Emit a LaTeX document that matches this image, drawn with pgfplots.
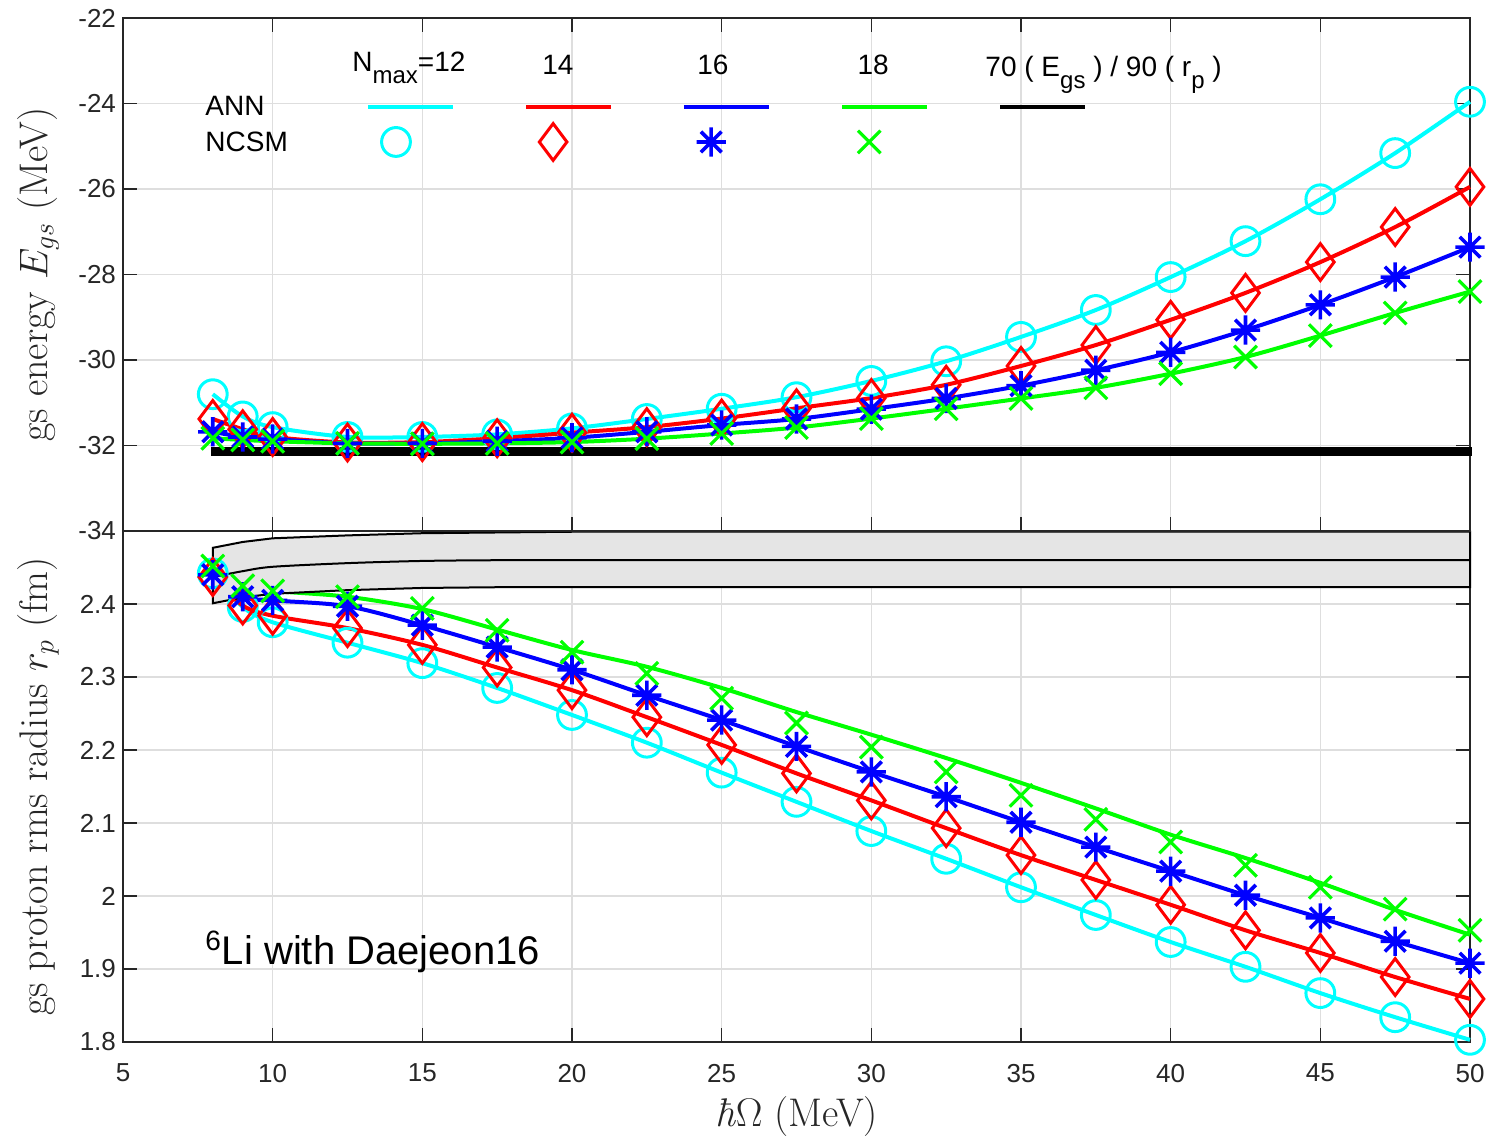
\RequirePackage{fix-cm}
\documentclass[border=0pt]{standalone}
\usepackage{pgfplots}
\usepackage{pgfplotstable}
\pgfplotsset{compat=1.18}
\usepackage{fontspec}
\newfontfamily\hel{Liberation Sans}
\definecolor{axgray}{gray}{0.15}
\definecolor{gridc}{gray}{0.87}
\definecolor{bandc}{gray}{0.9}
\definecolor{mcyan}{rgb}{0,1,1}
\definecolor{mred}{rgb}{1,0,0}
\definecolor{mblue}{rgb}{0,0,1}
\definecolor{mgreen}{rgb}{0,1,0}

\pgfdeclareplotmark{star8}{%
  \pgfpathmoveto{\pgfqpoint{0pt}{\pgfplotmarksize}}\pgfpathlineto{\pgfqpoint{0pt}{-\pgfplotmarksize}}%
  \pgfpathmoveto{\pgfqpoint{\pgfplotmarksize}{0pt}}\pgfpathlineto{\pgfqpoint{-\pgfplotmarksize}{0pt}}%
  \pgfpathmoveto{\pgfqpoint{.7071\pgfplotmarksize}{.7071\pgfplotmarksize}}\pgfpathlineto{\pgfqpoint{-.7071\pgfplotmarksize}{-.7071\pgfplotmarksize}}%
  \pgfpathmoveto{\pgfqpoint{-.7071\pgfplotmarksize}{.7071\pgfplotmarksize}}\pgfpathlineto{\pgfqpoint{.7071\pgfplotmarksize}{-.7071\pgfplotmarksize}}%
  \pgfusepathqstroke}

\newcommand{\sub}[1]{\raisebox{-0.4em}{\fontsize{12}{14}\selectfont #1}}

\pgfplotstableread{
x     e12     e14     e16     e18
8     -30.80  -31.38  -31.68  -31.83
9     -31.32  -31.62  -31.80  -31.87
10    -31.57  -31.80  -31.85  -31.90
12.5  -31.80  -31.93  -31.95  -31.95
15    -31.80  -31.92  -31.95  -31.96
17.5  -31.74  -31.83  -31.90  -31.95
20    -31.60  -31.70  -31.82  -31.92
22.5  -31.38  -31.57  -31.68  -31.84
25    -31.14  -31.37  -31.52  -31.72
27.5  -30.87  -31.13  -31.38  -31.58
30    -30.49  -30.89  -31.15  -31.37
32.5  -30.03  -30.58  -30.90  -31.14
35    -29.46  -30.14  -30.60  -30.90
37.5  -28.83  -29.65  -30.24  -30.65
40    -28.06  -29.06  -29.82  -30.32
42.5  -27.22  -28.43  -29.30  -29.93
45    -26.24  -27.71  -28.71  -29.43
47.5  -25.16  -26.89  -28.06  -28.90
50    -23.96  -25.95  -27.36  -28.40
}\Etab

\pgfplotstableread{
x     r12    r14    r16    r18    r18l
8     2.442  2.437  2.440  2.452  2.452
9     2.396  2.398  2.410  2.425  2.425
10    2.375  2.384  2.405  2.418  2.418
12.5  2.347  2.367  2.397  2.410  2.410
15    2.319  2.344  2.371  2.394  2.393
17.5  2.285  2.313  2.341  2.364  2.365
20    2.248  2.282  2.310  2.334  2.337
22.5  2.210  2.245  2.275  2.305  2.314
25    2.169  2.207  2.241  2.271  2.285
27.5  2.129  2.168  2.205  2.237  2.252
30    2.089  2.131  2.170  2.204  2.221
32.5  2.051  2.093  2.136  2.170  2.189
35    2.012  2.056  2.101  2.138  2.155
37.5  1.974  2.022  2.067  2.105  2.120
40    1.937  1.988  2.034  2.074  2.084
42.5  1.903  1.953  2.001  2.042  2.052
45    1.867  1.922  1.970  2.012  2.018
47.5  1.834  1.889  1.938  1.982  1.981
50    1.803  1.859  1.908  1.953  1.947
}\Rtab

\pgfplotsset{
  myaxis/.style={
    scale only axis, width=673.5pt, xmin=5, xmax=50,
    axis line style={axgray, line width=0.75pt},
    tick style={axgray, line width=0.75pt},
    major tick length=7pt,
    tick align=inside, xtick pos=both, ytick pos=both,
    xmajorgrids, ymajorgrids,
    major grid style={gridc, line width=0.6pt},
    xtick={5,10,15,20,25,30,35,40,45,50},
    tick label style={font=\hel\fontsize{13}{15}\selectfont, text=axgray},
    label style={font=\fontsize{20}{24}\selectfont, text=axgray},
    clip=false,
  },
  ln/.style={no marks, line width=2pt, smooth},
  mk12/.style={only marks, mcyan, mark=o, mark size=7.2pt, mark options={line width=1.5pt}},
  mk14/.style={only marks, mred, mark=diamond, mark size=9.2pt, mark options={line width=1.5pt}},
  mk16/.style={only marks, mblue, mark=star8, mark size=7.3pt, mark options={line width=1.8pt}},
  mk18/.style={only marks, mgreen, mark=x, mark size=8pt, mark options={line width=1.6pt}},
}

\begin{document}
\begin{tikzpicture}
\useasboundingbox (-61.5pt,-47.5pt) rectangle (685pt,521pt);

% bottom panel: radius
\begin{axis}[myaxis, at={(0pt,0pt)}, anchor=south west, height=255.5pt,
  ymin=1.8, ymax=2.5,
  ytick={1.8,1.9,2,2.1,2.2,2.3,2.4},
  yticklabels={1.8,1.9,2,2.1,2.2,2.3,2.4},
  xticklabels={5,10,15,20,25,30,35,40,45,50},
  xticklabel style={yshift=-7.5pt},
  xlabel={\textit{ħ}$\Omega$ (MeV)},
  ylabel={gs proton rms radius $r_p$ (fm)},
  xlabel style={at={(axis description cs:0.5,-0.145)}, anchor=center},
  ylabel style={at={(axis description cs:-0.063,0.5)}, anchor=center},
]
\addplot[ln, mcyan] table[x=x, y=r12] {\Rtab};
\addplot[ln, mred] table[x=x, y=r14] {\Rtab};
\addplot[ln, mblue] table[x=x, y=r16] {\Rtab};
\addplot[ln, mgreen] table[x=x, y=r18l] {\Rtab};
\addplot[mk12] table[x=x, y=r12] {\Rtab};
\addplot[mk14] table[x=x, y=r14] {\Rtab};
\addplot[mk16] table[x=x, y=r16] {\Rtab};
\addplot[mk18] table[x=x, y=r18] {\Rtab};
\addplot[fill=bandc, draw=black, line width=1pt] coordinates {
 (8,2.477)(9,2.485)(10,2.490)(12.5,2.494)(15,2.497)(17.5,2.498)(20,2.499)(30,2.499)(50,2.499)
 (50,2.423)(30,2.423)(20,2.423)(17.5,2.423)(15,2.422)(12.5,2.419)(10,2.414)(9,2.409)(8,2.401)} -- cycle;
\addplot[black, line width=1pt, smooth] coordinates {
 (8,2.437)(9,2.445)(10,2.451)(12.5,2.456)(15,2.459)(17.5,2.460)(20,2.460)(30,2.460)(50,2.460)};
\node[anchor=base west, inner sep=0pt, font=\hel\fontsize{20}{24}\selectfont] at (axis cs:7.74,1.9055) {\textsuperscript{6}Li with Daejeon16};
\end{axis}

% top panel: energy
\begin{axis}[myaxis, at={(0pt,255.5pt)}, anchor=south west, height=256.5pt,
  ymin=-34, ymax=-22,
  ytick={-34,-32,-30,-28,-26,-24,-22},
  yticklabels={-34,-32,-30,-28,-26,-24,-22},
  xticklabels={},
  ylabel={gs energy $E_{gs}$ (MeV)},
  ylabel style={at={(axis description cs:-0.063,0.5)}, anchor=center},
]
\addplot[ln, mcyan] table[x=x, y=e12] {\Etab};
\addplot[ln, mred] table[x=x, y=e14] {\Etab};
\addplot[ln, mblue] table[x=x, y=e16] {\Etab};
\addplot[ln, mgreen] table[x=x, y=e18] {\Etab};
\addplot[mk12] table[x=x, y=e12] {\Etab};
\addplot[mk14] table[x=x, y=e14] {\Etab};
\addplot[mk16] table[x=x, y=e16] {\Etab};
\addplot[mk18] table[x=x, y=e18] {\Etab};
\addplot[fill=bandc, draw=black, line width=1.5pt] coordinates {(8,-32.07)(50,-32.07)(50,-32.21)(8,-32.21)} -- cycle;
\addplot[black, line width=1.5pt] coordinates {(8,-32.14)(50,-32.14)};
% legend
\addplot[mcyan, line width=2pt, no marks] coordinates {(13.19,-24.08)(16.03,-24.08)};
\addplot[mred, line width=2pt, no marks] coordinates {(18.47,-24.08)(21.30,-24.08)};
\addplot[mblue, line width=2pt, no marks] coordinates {(23.74,-24.08)(26.58,-24.08)};
\addplot[mgreen, line width=2pt, no marks] coordinates {(29.02,-24.08)(31.86,-24.08)};
\addplot[black, line width=2pt, no marks] coordinates {(34.30,-24.08)(37.14,-24.08)};
\addplot[mk12] coordinates {(14.12,-24.90)};
\addplot[mk14] coordinates {(19.37,-24.90)};
\addplot[mk16] coordinates {(24.65,-24.90)};
\addplot[mk18] coordinates {(29.93,-24.90)};
\begin{scope}[every node/.style={inner sep=0pt, font=\hel\fontsize{14}{16}\selectfont}]
\node[anchor=base west] at (axis cs:7.74,-24.27) {ANN};
\node[anchor=base west] at (axis cs:7.74,-25.13) {NCSM};
\node[anchor=base west] at (axis cs:12.65,-23.26) {N\sub{max}=12};
\node[anchor=base] at (axis cs:19.53,-23.33) {14};
\node[anchor=base] at (axis cs:24.71,-23.33) {16};
\node[anchor=base] at (axis cs:30.06,-23.33) {18};
\node[anchor=base west] at (axis cs:33.80,-23.38) {70 ( E\sub{gs} ) / 90 ( r\sub{p} )};
\end{scope}
\end{axis}
\end{tikzpicture}
\end{document}
